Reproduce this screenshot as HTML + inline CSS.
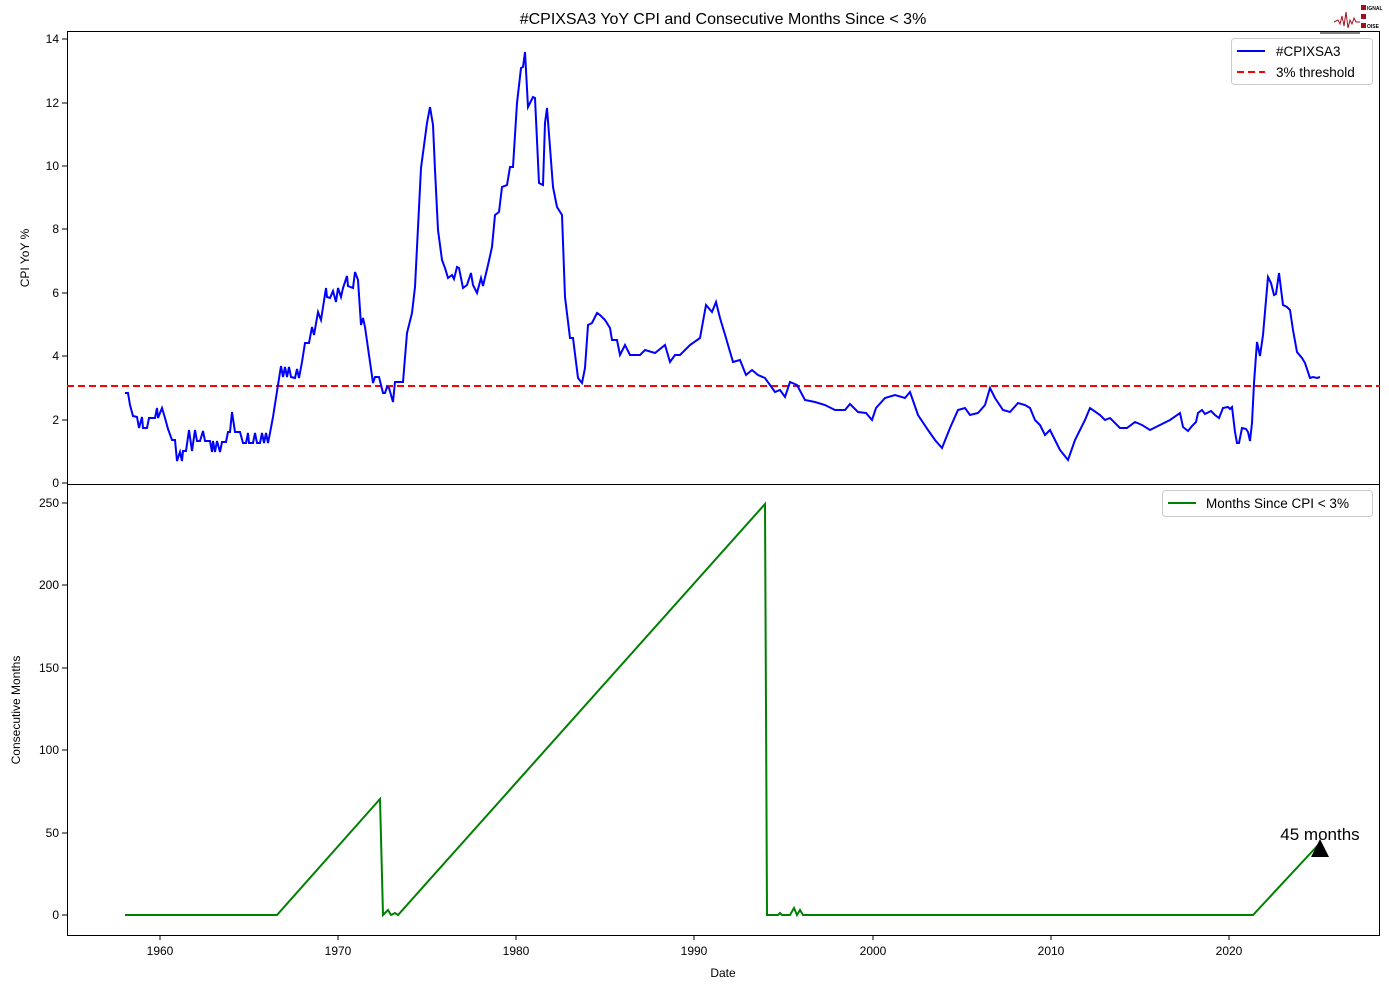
<!DOCTYPE html>
<html><head><meta charset="utf-8"><style>body{margin:0;background:#fff}svg{display:block}text{font-family:"Liberation Sans","DejaVu Sans",sans-serif}</style></head><body>
<svg width="1389" height="989" viewBox="0 0 1389 989" xmlns="http://www.w3.org/2000/svg">
<rect width="1389" height="989" fill="#fff"/>
<text x="723" y="24" font-size="16" text-anchor="middle">#CPIXSA3 YoY CPI and Consecutive Months Since &lt; 3%</text>
<!-- logo -->
<g stroke="#a01020" fill="none" stroke-width="1"><polyline points="1334,22 1338,20 1340,24 1342,16 1344,26 1346,12 1348,28 1350,20 1352,24 1354,18 1356,22 1360,22"/></g>
<rect x="1361" y="5" width="5" height="5" fill="#a01020"/><rect x="1361" y="14" width="5" height="5" fill="#a01020"/><rect x="1361" y="23" width="5" height="5" fill="#a01020"/>
<text x="1367" y="10" font-size="5" font-weight="bold">IGNAL</text><text x="1367" y="28" font-size="5" font-weight="bold">OISE</text>
<line x1="1320" y1="33" x2="1360" y2="33" stroke="#000" stroke-width="1"/>
<!-- axes frames -->
<rect x="67.5" y="31.5" width="1312" height="453" fill="none" stroke="#000"/>
<rect x="67.5" y="484.5" width="1312" height="451" fill="none" stroke="#000"/>
<g stroke="#000">
<line x1="160" y1="935" x2="160" y2="940"/><line x1="338" y1="935" x2="338" y2="940"/><line x1="516" y1="935" x2="516" y2="940"/><line x1="694" y1="935" x2="694" y2="940"/><line x1="873" y1="935" x2="873" y2="940"/><line x1="1051" y1="935" x2="1051" y2="940"/><line x1="1229" y1="935" x2="1229" y2="940"/>
<line x1="62" y1="483" x2="67" y2="483"/><line x1="62" y1="420" x2="67" y2="420"/><line x1="62" y1="356" x2="67" y2="356"/><line x1="62" y1="293" x2="67" y2="293"/><line x1="62" y1="229" x2="67" y2="229"/><line x1="62" y1="166" x2="67" y2="166"/><line x1="62" y1="103" x2="67" y2="103"/><line x1="62" y1="39" x2="67" y2="39"/>
<line x1="62" y1="915" x2="67" y2="915"/><line x1="62" y1="833" x2="67" y2="833"/><line x1="62" y1="750" x2="67" y2="750"/><line x1="62" y1="668" x2="67" y2="668"/><line x1="62" y1="585" x2="67" y2="585"/><line x1="62" y1="503" x2="67" y2="503"/>
</g>
<g font-size="12" text-anchor="middle">
<text x="160" y="955">1960</text><text x="338" y="955">1970</text><text x="516" y="955">1980</text><text x="694" y="955">1990</text><text x="873" y="955">2000</text><text x="1051" y="955">2010</text><text x="1229" y="955">2020</text>
<text x="723" y="977">Date</text>
</g>
<g font-size="12" text-anchor="end">
<text x="59" y="487">0</text><text x="59" y="424">2</text><text x="59" y="360">4</text><text x="59" y="297">6</text><text x="59" y="233">8</text><text x="59" y="170">10</text><text x="59" y="107">12</text><text x="59" y="43">14</text>
<text x="59" y="919">0</text><text x="59" y="837">50</text><text x="59" y="754">100</text><text x="59" y="672">150</text><text x="59" y="589">200</text><text x="59" y="507">250</text>
</g>
<text transform="translate(29,258) rotate(-90)" font-size="12" text-anchor="middle">CPI YoY %</text>
<text transform="translate(20,710) rotate(-90)" font-size="12" text-anchor="middle">Consecutive Months</text>
<line x1="67" y1="386" x2="1380" y2="386" stroke="#f00" stroke-width="2" stroke-dasharray="7,4"/>
<polyline fill="none" stroke="#00f" stroke-width="2" points="125,393 128,393 130,405 133,416 137,417 139,428 142,417 143,428 147,428 149,418 155,418 157,408 158,418 162,408 165,418 168,429 172,440 175,440 177,461 180,452 182,461 183,451 186,451 189,430 192,451 195,430 197,441 200,441 203,431 205,441 210,441 212,452 213,441 215,452 217,441 220,452 222,442 226,442 228,432 230,432 232,412 235,432 240,432 243,443 246,443 248,433 249,443 253,443 255,433 257,443 260,443 262,433 264,443 266,433 268,443 270,433 273,417 278,385 281,366 283,377 285,367 287,377 289,367 291,377 295,378 297,369 299,378 302,362 305,343 309,343 312,327 314,335 318,312 321,320 326,288 327,297 330,298 333,291 336,302 338,288 341,297 343,288 347,276 348,286 353,288 355,272 358,280 361,325 363,318 365,327 369,355 373,383 375,377 379,377 383,393 385,393 387,387 389,388 391,395 393,402 395,382 398,382 403,382 407,333 412,313 415,287 421,168 427,123 430,107 433,125 435,170 438,230 442,260 445,268 448,278 452,275 454,279 457,267 459,268 463,288 467,285 471,273 473,285 477,293 481,278 483,286 488,265 492,247 495,215 499,212 502,187 507,185 510,167 513,167 517,103 521,68 523,67 525,52 528,107 533,97 535,98 539,183 543,185 545,123 547,108 553,187 555,197 557,207 562,215 565,297 570,338 573,338 578,378 582,383 585,368 588,325 592,323 597,313 600,315 605,320 610,328 612,340 617,340 620,355 625,345 630,355 640,355 645,350 655,353 665,345 670,362 675,355 680,355 690,345 700,338 706,305 712,312 716,302 720,318 726,338 733,362 740,360 746,375 752,370 758,375 765,378 770,385 775,392 780,390 785,397 790,382 797,385 805,400 815,402 825,405 835,410 845,410 850,404 858,412 866,413 872,420 876,408 885,398 895,395 905,398 910,392 918,415 928,430 935,440 942,448 950,428 958,410 965,408 970,415 978,413 985,405 990,388 995,398 1003,410 1010,412 1018,403 1025,405 1030,408 1035,420 1040,425 1045,435 1050,430 1055,440 1060,450 1068,460 1075,440 1085,420 1090,408 1100,415 1105,420 1110,418 1120,428 1127,428 1135,422 1142,425 1150,430 1160,425 1170,420 1180,413 1183,427 1188,431 1192,426 1196,422 1198,413 1202,410 1205,414 1211,411 1215,415 1219,418 1223,408 1228,407 1230,409 1232,407 1235,432 1237,443 1239,443 1242,428 1246,429 1248,432 1250,441 1252,423 1254,383 1257,342 1260,356 1263,335 1268,277 1271,283 1274,295 1276,294 1279,273 1283,305 1287,307 1290,310 1293,330 1297,352 1302,358 1305,363 1310,378 1313,377 1317,378 1320,377"/>
<polyline fill="none" stroke="#008000" stroke-width="2" points="125,915 277,915 380,799 383,915 388,910 391,915 395,913 398,915 765,504 767,915 778,915 780,913 782,915 790,915 794,908 797,915 800,910 803,915 1253,915 1320,843"/>
<polygon points="1320,839 1311,857 1329,857" fill="#000"/>
<text x="1320" y="840" font-size="17" text-anchor="middle">45 months</text>
<!-- legends -->
<rect x="1231.5" y="38.5" width="141" height="46" rx="3" fill="#fff" stroke="#ccc"/>
<line x1="1237" y1="51" x2="1265" y2="51" stroke="#00f" stroke-width="2"/>
<text x="1276" y="56" font-size="13.5">#CPIXSA3</text>
<line x1="1237" y1="72" x2="1265" y2="72" stroke="#f00" stroke-width="2" stroke-dasharray="7,4"/>
<text x="1276" y="77" font-size="13.5">3% threshold</text>
<rect x="1162.5" y="490.5" width="210" height="26" rx="3" fill="#fff" stroke="#ccc"/>
<line x1="1168" y1="503" x2="1196" y2="503" stroke="#008000" stroke-width="2"/>
<text x="1206" y="508" font-size="13.5">Months Since CPI &lt; 3%</text>
</svg>
</body></html>
